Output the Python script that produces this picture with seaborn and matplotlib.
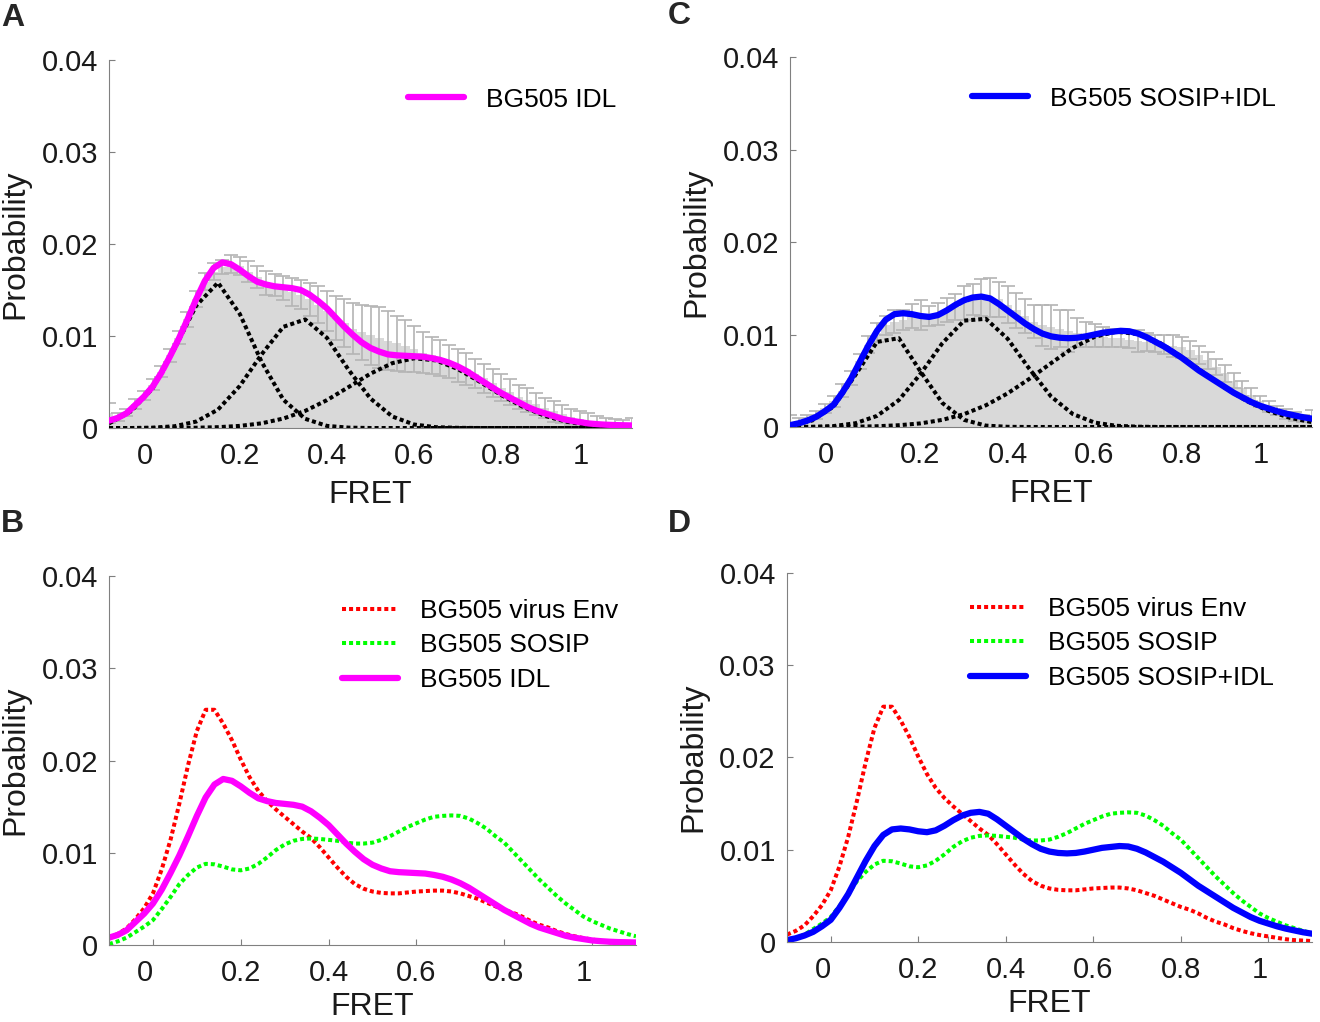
import numpy as np
import pandas as pd
import matplotlib.pyplot as plt
import matplotlib.transforms as mtransforms
import seaborn as sns

sns.set_style("ticks")
plt.rcParams["font.family"] = ["Liberation Sans", "DejaVu Sans"]

# FRET bin centres (histogram + fitted curves) and grid for the gaussian components
fret = np.round(np.arange(-0.10, 1.1001, 0.02), 2)
comp_x = np.round(np.arange(-0.10, 1.1001, 0.05), 2)

# all values below in units of 1e-3 (probability)
# --- BG505 IDL (panel A / B)
idl_hist = [1.6, 1.2, 1.7, 2.6, 3.5, 4.7, 6.1, 7.9, 9.8, 11.8, 14.0, 15.9, 17.0, 17.5, 17.8,
            17.6, 17.0, 16.4, 15.8, 15.5, 15.2, 14.8, 14.5, 14.0, 13.4, 12.7, 12.0, 11.4, 10.8,
            10.4, 10.1, 9.8, 9.5, 9.2, 8.9, 8.6, 8.2, 7.9, 7.6, 7.2, 6.8, 6.4, 5.9, 5.4, 4.9,
            4.4, 3.9, 3.4, 3.0, 2.6, 2.2, 1.8, 1.5, 1.2, 1.0, 0.8, 0.6, 0.5, 0.4, 0.35, 0.3]
idl_err = [1.1, 0.4, 0.4, 0.5, 0.5, 0.6, 0.6, 0.7, 0.7, 0.8, 0.9, 0.9, 0.9, 0.8, 1.0,
           1.0, 1.1, 1.2, 1.3, 1.2, 1.3, 1.5, 1.6, 1.8, 2.0, 2.2, 2.4, 2.6, 2.8,
           3.0, 3.2, 3.3, 3.2, 3.0, 2.8, 2.5, 2.2, 2.0, 2.0, 1.8, 1.8, 1.7, 1.6, 1.6, 1.5,
           1.5, 1.4, 1.3, 1.3, 1.2, 1.1, 1.1, 1.0, 0.9, 0.8, 0.8, 0.7, 0.6, 0.6, 0.5, 0.8]
idl_fit = [0.8, 1.1, 1.6, 2.5, 3.4, 4.5, 6.0, 7.8, 9.7, 11.8, 14.0, 16.0, 17.4, 18.0, 17.8,
           17.2, 16.5, 15.9, 15.6, 15.4, 15.3, 15.2, 15.0, 14.5, 13.8, 13.0, 12.0, 11.0, 10.1,
           9.3, 8.7, 8.3, 8.0, 7.9, 7.85, 7.8, 7.75, 7.6, 7.4, 7.1, 6.7, 6.2, 5.6, 5.0, 4.4,
           3.8, 3.3, 2.8, 2.3, 1.9, 1.6, 1.3, 1.0, 0.8, 0.65, 0.5, 0.42, 0.36, 0.32, 0.3, 0.28]
idl_g1 = [0.5, 1.8, 4.3, 8.6, 13.3, 15.8, 12.4, 7.2, 3.07, 1.0, 0.23, 0.04, 0, 0, 0,
          0, 0, 0, 0, 0, 0, 0, 0, 0, 0]
idl_g2 = [0, 0, 0.04, 0.19, 0.70, 2.0, 4.57, 8.0, 11.0, 11.8, 9.8, 6.3, 3.2, 1.25, 0.38,
          0.09, 0.02, 0, 0, 0, 0, 0, 0, 0, 0]
idl_g3 = [0, 0, 0, 0.01, 0.03, 0.09, 0.23, 0.51, 1.03, 1.86, 3.03, 4.46, 5.91, 7.05, 7.58,
          7.35, 6.42, 5.05, 3.58, 2.29, 1.32, 0.68, 0.32, 0.13, 0.05]

# --- BG505 SOSIP+IDL (panel C / D)
sosip_idl_hist = [0.5, 0.6, 0.9, 1.3, 2.0, 2.8, 3.9, 5.3, 7.1, 8.9, 10.2, 11.0, 11.4, 11.6, 12.0,
                  12.1, 12.0, 12.2, 12.6, 13.0, 13.4, 13.8, 14.0, 14.0, 13.8, 13.2, 12.6, 12.0, 11.4,
                  11.0, 10.8, 10.6, 10.4, 10.2, 10.0, 9.9, 9.7, 9.6, 9.6, 9.4, 9.3, 9.2, 9.0, 8.9, 8.8,
                  8.6, 8.3, 7.8, 7.2, 6.5, 5.8, 5.0, 4.2, 3.5, 2.8, 2.2, 1.8, 1.4, 1.1, 0.9, 0.8]
sosip_idl_err = [0.8, 0.4, 0.4, 0.4, 0.5, 0.6, 0.7, 0.8, 0.8, 0.9, 1.0, 1.0, 1.2, 1.1, 1.3,
                 1.6, 1.1, 1.2, 1.3, 1.4, 1.8, 1.7, 2.0, 2.1, 1.9, 2.0, 1.9, 1.8, 1.8,
                 2.2, 2.4, 2.0, 2.3, 1.6, 1.4, 1.2, 1.1, 1.0, 1.0, 0.9, 1.2, 1.0, 0.9, 1.0, 1.2,
                 1.1, 1.0, 1.0, 0.9, 0.9, 0.9, 0.8, 0.8, 0.7, 0.6, 0.6, 0.5, 0.5, 0.5, 0.4, 1.0]
sosip_idl_fit = [0.2, 0.4, 0.7, 1.1, 1.7, 2.4, 3.7, 5.2, 7.0, 8.8, 10.4, 11.6, 12.2, 12.3, 12.2,
                 12.0, 11.9, 12.1, 12.6, 13.2, 13.7, 14.0, 14.1, 13.9, 13.3, 12.6, 11.9, 11.2, 10.6,
                 10.1, 9.8, 9.65, 9.6, 9.65, 9.8, 10.0, 10.2, 10.3, 10.4, 10.35, 10.1, 9.7, 9.2, 8.7, 8.1,
                 7.5, 6.8, 6.1, 5.5, 4.9, 4.3, 3.7, 3.2, 2.7, 2.3, 2.0, 1.7, 1.45, 1.25, 1.05, 0.9]
sosip_idl_g1 = [0.15, 0.7, 2.2, 5.6, 9.2, 9.6, 6.0, 2.6, 0.77, 0.15, 0.02, 0, 0, 0, 0,
                0, 0, 0, 0, 0, 0, 0, 0, 0, 0]
sosip_idl_g2 = [0, 0.02, 0.10, 0.40, 1.2, 2.9, 5.75, 9.05, 11.5, 11.7, 9.55, 6.3, 3.3, 1.4, 0.48,
                0.13, 0.03, 0, 0, 0, 0, 0, 0, 0, 0]
sosip_idl_g3 = [0, 0, 0.01, 0.03, 0.08, 0.19, 0.39, 0.77, 1.39, 2.34, 3.63, 5.2, 6.9, 8.55, 9.75,
                10.3, 10.05, 9.1, 7.6, 5.9, 4.23, 2.8, 1.73, 0.98, 0.52]

# --- reference fits (panel B / D)
virus_env_fit = [0.8, 1.2, 1.8, 2.8, 4.0, 5.6, 8.2, 11.4, 15.3, 19.5, 23.2, 25.5, 25.5, 24.0, 22.2,
                 20.1, 18.2, 16.7, 15.6, 14.7, 13.9, 13.1, 12.3, 11.6, 10.6, 9.5, 8.4, 7.4, 6.6,
                 6.1, 5.8, 5.65, 5.6, 5.6, 5.7, 5.8, 5.85, 5.9, 5.9, 5.8, 5.6, 5.3, 5.0, 4.6, 4.2,
                 3.8, 3.5, 3.1, 2.6, 2.2, 1.9, 1.5, 1.2, 0.95, 0.75, 0.6, 0.45, 0.3, 0.2, 0.15, 0.1]
sosip_fit = [0.1, 0.4, 0.8, 1.4, 2.0, 2.7, 3.9, 5.2, 6.6, 7.6, 8.4, 8.8, 8.75, 8.5, 8.2,
             8.1, 8.3, 8.8, 9.5, 10.3, 10.9, 11.3, 11.5, 11.55, 11.5, 11.4, 11.3, 11.1, 11.0,
             11.0, 11.1, 11.4, 11.8, 12.3, 12.8, 13.2, 13.6, 13.9, 14.0, 14.05, 14.0, 13.7, 13.2, 12.6, 11.8,
             11.1, 10.1, 9.1, 8.1, 7.1, 6.2, 5.3, 4.5, 3.8, 3.1, 2.6, 2.2, 1.8, 1.5, 1.2, 0.95]

MAGENTA, BLUE, RED, GREEN = "#ff00ff", "#0000ff", "#ff0000", "#00ff00"
DOT = (1, 0.75)
DOT_LW = 2.9


def p(vals):
    return np.asarray(vals, dtype=float) / 1000.0


def style_axes(ax, fig, xlabelpad):
    ax.set_xlim(-0.1, 1.1)
    ax.set_ylim(0, 0.04)
    ax.set_xticks([0, 0.2, 0.4, 0.6, 0.8, 1])
    ax.set_xticklabels(["0", "0.2", "0.4", "0.6", "0.8", "1"])
    ax.set_yticks([0, 0.01, 0.02, 0.03, 0.04])
    ax.set_yticklabels(["0", "0.01", "0.02", "0.03", "0.04"])
    ax.tick_params(direction="in", length=4, width=0.8, color="#7f7f7f",
                   labelcolor="#1a1a1a", labelsize=21)
    ax.tick_params(axis="x", pad=10)
    ax.tick_params(axis="y", pad=8)
    # single-character x labels sit a little left of their ticks in the original
    shift = mtransforms.ScaledTranslation(-8 / 100, 0, fig.dpi_scale_trans)
    for lab in ax.get_xticklabels():
        if lab.get_text() in ("0", "1"):
            lab.set_transform(lab.get_transform() + shift)
    for s in ["top", "right"]:
        ax.spines[s].set_visible(False)
    for s in ["left", "bottom"]:
        ax.spines[s].set_color("#808080")
        ax.spines[s].set_linewidth(0.8)
    ax.set_xlabel("FRET", fontsize=23, color="#1a1a1a", labelpad=xlabelpad)
    ax.set_ylabel("Probability", fontsize=23, color="#1a1a1a", labelpad=8)


def hist_panel(ax, hist, err, g1, g2, g3, fit, color, label):
    df = pd.DataFrame({"fret": fret, "prob": p(hist)})
    sns.histplot(data=df, x="fret", weights="prob", binwidth=0.02, binrange=(-0.11, 1.11),
                 color="#d9d9d9", alpha=1, edgecolor="none", linewidth=0, ax=ax, zorder=1)
    ax.errorbar(fret, p(hist), yerr=p(err), fmt="none", ecolor="#b4b4b4",
                elinewidth=1.2, capsize=5, capthick=1.2, zorder=2)
    for g in (g1, g2, g3):
        sns.lineplot(x=comp_x, y=p(g), color="black", lw=DOT_LW, ax=ax, zorder=3)
        ax.lines[-1].set_dashes(DOT)
    sns.lineplot(x=fret, y=p(fit), color=color, lw=4.5, ax=ax, zorder=4, label=label)


def compare_panel(ax, fit, color, label):
    sns.lineplot(x=fret, y=p(virus_env_fit), color=RED, lw=DOT_LW, ax=ax, label="BG505 virus Env")
    ax.lines[-1].set_dashes(DOT)
    sns.lineplot(x=fret, y=p(sosip_fit), color=GREEN, lw=DOT_LW, ax=ax, label="BG505 SOSIP")
    ax.lines[-1].set_dashes(DOT)
    sns.lineplot(x=fret, y=p(fit), color=color, lw=4.5, ax=ax, label=label)


fig = plt.figure(figsize=(13.2, 10.22), dpi=100)
axA = fig.add_axes([0.0826, 0.5812, 0.3962, 0.3601])
axC = fig.add_axes([0.5985, 0.5822, 0.3955, 0.3620])
axB = fig.add_axes([0.0826, 0.0753, 0.3992, 0.3611])
axD = fig.add_axes([0.5962, 0.0783, 0.3977, 0.3611])

hist_panel(axA, idl_hist, idl_err, idl_g1, idl_g2, idl_g3, idl_fit, MAGENTA, "BG505 IDL")
hist_panel(axC, sosip_idl_hist, sosip_idl_err, sosip_idl_g1, sosip_idl_g2, sosip_idl_g3,
           sosip_idl_fit, BLUE, "BG505 SOSIP+IDL")
compare_panel(axB, idl_fit, MAGENTA, "BG505 IDL")
compare_panel(axD, sosip_idl_fit, BLUE, "BG505 SOSIP+IDL")

legend_pos = {axA: (0.572, 0.925), axC: (0.349, 0.92), axB: (0.442, 0.938), axD: (0.349, 0.935)}
label_pads = {axA: 7, axC: 7, axB: 4, axD: 4}
for ax in (axA, axB, axC, axD):
    style_axes(ax, fig, label_pads[ax])
    leg = ax.legend(loc="upper left", bbox_to_anchor=legend_pos[ax], frameon=False,
                    fontsize=19, handlelength=2.12, handletextpad=0.83, labelspacing=0.4,
                    borderpad=0, borderaxespad=0)
    for t in leg.get_texts():
        t.set_color("black")

for letter, x, y in [("A", 0.001, 0.997), ("C", 0.506, 0.999), ("B", 0.001, 0.502), ("D", 0.506, 0.502)]:
    fig.text(x, y, letter, fontsize=23, fontweight="bold", va="top", ha="left")

fig.savefig("out.png", dpi=100)
